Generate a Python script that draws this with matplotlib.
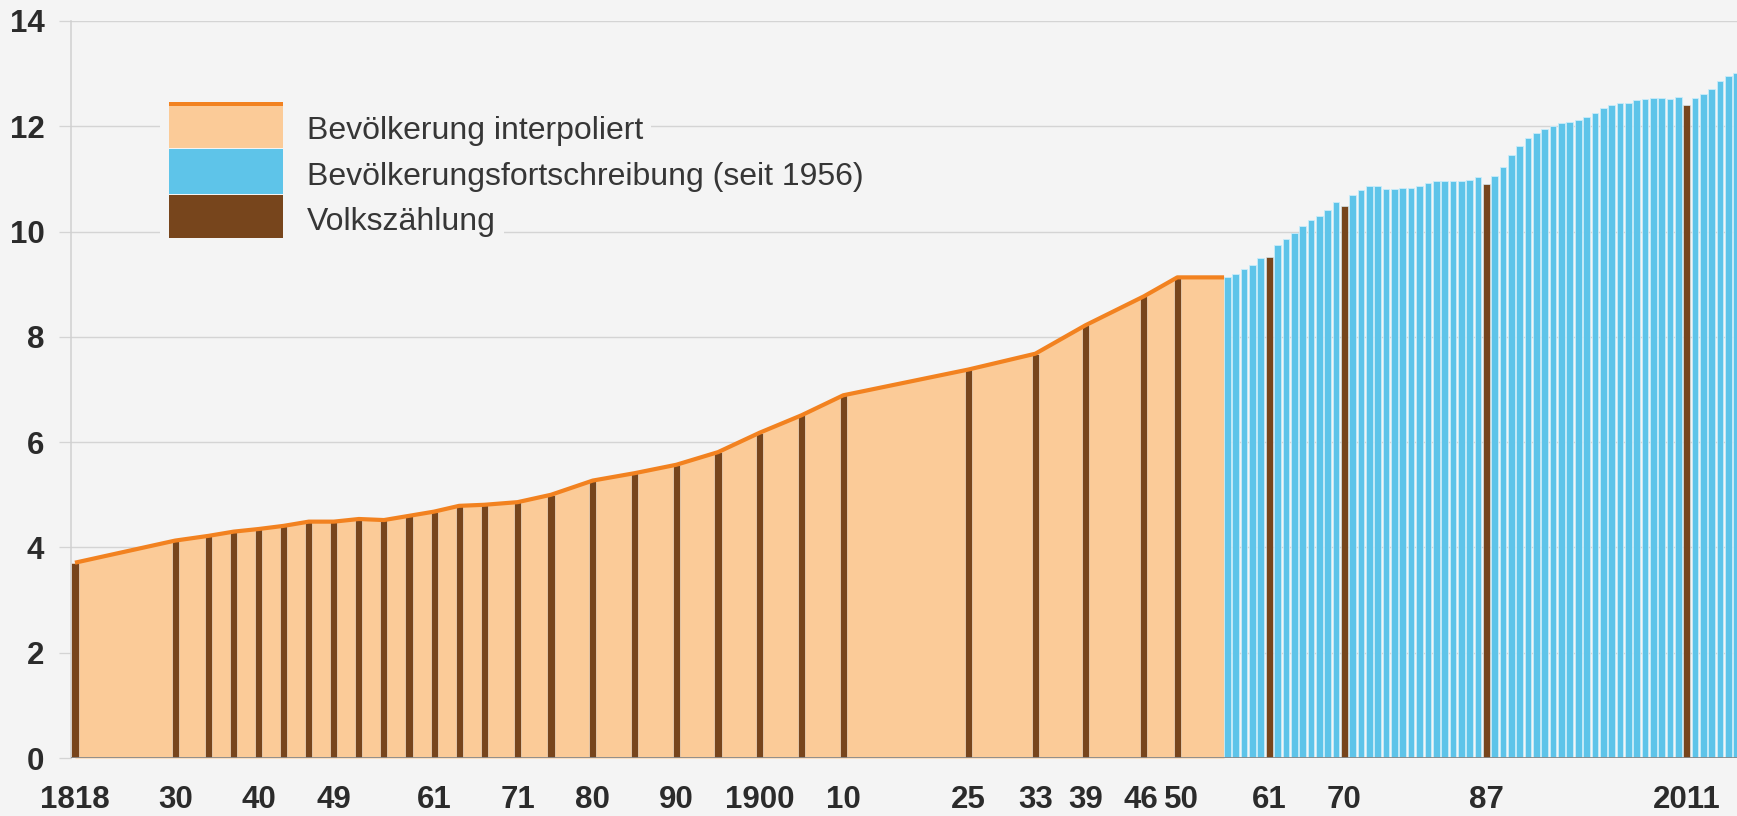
import numpy as np
import matplotlib.pyplot as plt
from matplotlib.patches import Rectangle

# Bevölkerung Bayerns in Millionen
census_years = [1818, 1830, 1834, 1837, 1840, 1843, 1846, 1849, 1852, 1855, 1858,
                1861, 1864, 1867, 1871, 1875, 1880, 1885, 1890, 1895, 1900, 1905,
                1910, 1925, 1933, 1939, 1946, 1950]
census_pop = [3.71, 4.13, 4.22, 4.30, 4.35, 4.41, 4.49, 4.49, 4.54, 4.52, 4.60,
              4.68, 4.79, 4.81, 4.86, 5.00, 5.27, 5.41, 5.57, 5.81, 6.18, 6.51,
              6.89, 7.38, 7.68, 8.22, 8.77, 9.13]

late_census_years = [1961, 1970, 1987, 2011]
late_census_pop = [9.52, 10.48, 10.90, 12.40]

update_years = list(range(1956, 2018))
update_pop = [9.13, 9.20, 9.29, 9.37, 9.50, np.nan, 9.74, 9.85, 9.98, 10.11,
              10.22, 10.29, 10.41, 10.57, np.nan, 10.70, 10.79, 10.86, 10.86, 10.81,
              10.80, 10.82, 10.83, 10.87, 10.93, 10.96, 10.96, 10.96, 10.96, 10.98,
              11.03, np.nan, 11.05, 11.22, 11.45, 11.62, 11.78, 11.88, 11.94, 12.01,
              12.06, 12.09, 12.11, 12.18, 12.25, 12.35, 12.41, 12.44, 12.45, 12.49,
              12.51, 12.54, 12.54, 12.52, 12.56, np.nan, 12.54, 12.62, 12.71, 12.86,
              12.95, 13.02]

tick_years = [1818, 1830, 1840, 1849, 1861, 1871, 1880, 1890, 1900, 1910, 1925,
              1933, 1939, 1946, 1950, 1961, 1970, 1987, 2011]
tick_labels = ['1818', '30', '40', '49', '61', '71', '80', '90', '1900', '10', '25',
               '33', '39', '46', '50', '61', '70', '87', '2011']

legend_labels = ['Bevölkerung interpoliert',
                 'Bevölkerungsfortschreibung (seit 1956)',
                 'Volkszählung']

BG = '#f4f4f4'
FILL = '#fbcb98'
ORANGE = '#f28220'
BLUE = '#5ec4e9'
BROWN = '#77451c'
GRID = '#d4d4d4'
TXT = '#2b2b2b'

plt.rcParams['font.family'] = ['Liberation Sans', 'DejaVu Sans']

W, H = 1737, 816
fig = plt.figure(figsize=(W / 100, H / 100), dpi=100)
fig.patch.set_facecolor(BG)
ax = fig.add_axes([70.7 / W, 58 / H, (W - 70.7) / W, (758 - 21) / H])
ax.set_facecolor(BG)

bar_w = 0.8

# interpolated area with the line on top
end_x = update_years[0] - bar_w / 2
line_x = census_years + [end_x]
line_y = census_pop + [census_pop[-1]]
ax.fill_between(line_x, line_y, 0, color=FILL, lw=0, zorder=1)

ax.bar(census_years, census_pop, width=0.85, color=BROWN,
       edgecolor='#fbe7d2', linewidth=0.45, zorder=2)

upd = np.array(update_pop)
yrs = np.array(update_years)
mask = ~np.isnan(upd)
ax.bar(yrs[mask], upd[mask], width=bar_w, color=BLUE,
       edgecolor='#c9ecf9', linewidth=0.6, zorder=2)
ax.bar(late_census_years, late_census_pop, width=0.85, color=BROWN,
       edgecolor='#d9eef6', linewidth=0.45, zorder=2)

ax.plot(line_x, line_y, color=ORANGE, lw=3.0, zorder=4,
        solid_capstyle='butt', solid_joinstyle='round')

ax.axhline(0, color='#8a8a8a', lw=1.3, zorder=5)

ax.set_xlim(1817.49, 2017.02)
ax.set_ylim(0, 14)

ax.set_yticks(range(0, 15, 2))
ax.set_yticklabels([str(v) for v in range(0, 15, 2)], fontsize=22.5,
                   fontweight='bold', color=TXT)
ax.tick_params(axis='y', length=9, width=0.9, color=GRID, pad=10)
ax.set_xticks([])
ax.yaxis.grid(True, color=GRID, lw=1.0)
ax.set_axisbelow(True)

for s in ['top', 'right', 'bottom']:
    ax.spines[s].set_visible(False)
ax.spines['left'].set_color('#d0d0d0')
ax.spines['left'].set_linewidth(1.1)

# year labels under the bars (two nudged apart so they do not touch)
nudge = {'46': -3, '50': 4}
for yr, lab in zip(tick_years, tick_labels):
    ax.annotate(lab, xy=(yr, 0), xycoords=('data', 'axes fraction'),
                xytext=(nudge.get(lab, 0) * 0.72, -42 * 0.72), textcoords='offset points',
                ha='center', va='center', fontsize=22.5, fontweight='bold', color=TXT,
                annotation_clip=False)

# legend drawn in figure pixels
def fx(px):
    return px / W


def fy(py):
    return 1 - py / H


def add_rect(x0, y0, x1, y1, color):
    fig.add_artist(Rectangle((fx(x0), fy(y1)), (x1 - x0) / W, (y1 - y0) / H,
                             transform=fig.transFigure, fc=color, ec='none'))


add_rect(160, 95, 306, 245, BG)
add_rect(169.3, 101.7, 283.3, 105.9, ORANGE)
add_rect(169.3, 105.9, 283.3, 147.9, FILL)
add_rect(169.3, 149.3, 283.3, 193.5, BLUE)
add_rect(169.3, 195.0, 283.3, 238.3, BROWN)

for lab, base in zip(legend_labels, [139.5, 185, 230]):
    fig.text(fx(306.7), fy(base), lab, fontsize=23, color='#363636',
             ha='left', va='baseline',
             bbox=dict(boxstyle='square,pad=0.25', fc=BG, ec='none'))

fig.savefig('out.png', dpi=100, facecolor=BG)
